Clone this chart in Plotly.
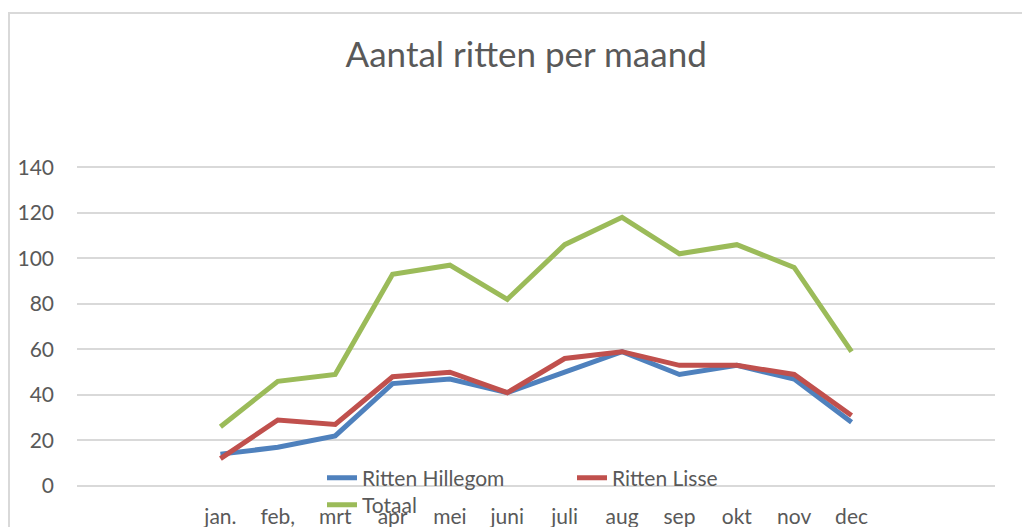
import plotly.graph_objects as go

months = ["jan.", "feb,", "mrt", "apr", "mei", "juni", "juli", "aug", "sep", "okt", "nov", "dec"]
hillegom = [14, 17, 22, 45, 47, 41, 50, 59, 49, 53, 47, 28]
lisse = [12, 29, 27, 48, 50, 41, 56, 59, 53, 53, 49, 31]
totaal = [26, 46, 49, 93, 97, 82, 106, 118, 102, 106, 96, 59]
y_ticks = [0, 20, 40, 60, 80, 100, 120, 140]

FONT = "Lato"
GRAY = "#595959"

fig = go.Figure()
fig.add_trace(go.Scatter(x=months, y=hillegom, name="Ritten Hillegom", mode="lines",
                         line=dict(color="#4F81BD", width=5), legend="legend"))
fig.add_trace(go.Scatter(x=months, y=lisse, name="Ritten Lisse", mode="lines",
                         line=dict(color="#C0504D", width=5), legend="legend"))
fig.add_trace(go.Scatter(x=months, y=totaal, name="Totaal", mode="lines",
                         line=dict(color="#9BBB59", width=5), legend="legend2"))

# page has an 8px body margin; figure coords = page coords - 8
# plot area (figure coords): x 69..987, y 157..478 (range 0..141)
W, Hfig = 1022, 519
L, R, T, B = 69, 35, 157, 41
PW = W - L - R
H = Hfig - T - B

fig.update_layout(
    width=W, height=Hfig,
    margin=dict(l=L, r=R, t=T, b=B, autoexpand=False),
    paper_bgcolor="white", plot_bgcolor="white",
    font=dict(family=FONT, color=GRAY, size=21),
    title=dict(text="Aantal ritten per maand", x=0.507, xref="container", y=0.909,
               yanchor="middle", xanchor="center",
               font=dict(family=FONT, size=35, color=GRAY)),
    xaxis=dict(type="category", range=[-2.5, 13.5], showgrid=False, ticks="",
               showline=False, zeroline=False, ticklabelstandoff=16,
               tickfont=dict(size=21, color=GRAY, family=FONT)),
    yaxis=dict(range=[0, 141], tickvals=y_ticks, showgrid=True, gridcolor="#D9D9D9",
               gridwidth=1.5, zeroline=True, zerolinecolor="#D9D9D9", zerolinewidth=1.5,
               showline=False, ticks="", ticklabelstandoff=22,
               tickfont=dict(size=21, color=GRAY, family=FONT)),
    legend=dict(orientation="h", x=245 / PW, y=8 / H, xanchor="left",
                yanchor="middle", bgcolor="rgba(0,0,0,0)", entrywidth=205, itemwidth=30,
                font=dict(size=21, color=GRAY, family=FONT)),
    legend2=dict(orientation="h", x=245 / PW, y=-19 / H, xanchor="left",
                 yanchor="middle", bgcolor="rgba(0,0,0,0)", itemwidth=30,
                 font=dict(size=21, color=GRAY, family=FONT)),
    shapes=[dict(type="rect", xref="paper", yref="paper",
                 x0=(1 - L) / PW, x1=1.2, y0=-0.5, y1=(H + T - 5) / H,
                 line=dict(color="#D9D9D9", width=2), fillcolor="rgba(0,0,0,0)",
                 layer="below")],
)

fig.write_html("out.html")
